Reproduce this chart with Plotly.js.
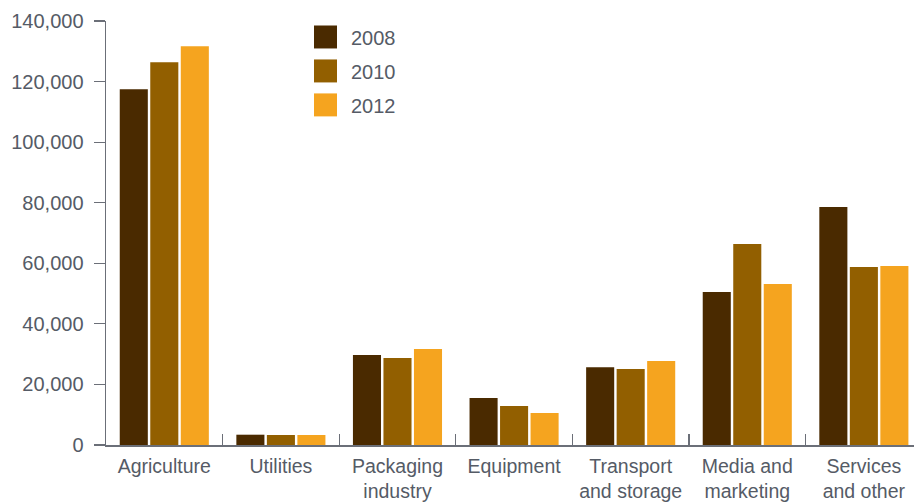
<!DOCTYPE html>
<html><head><meta charset="utf-8">
<script src="https://cdn.plot.ly/plotly-3.0.1.min.js"></script>
<style>html,body{margin:0;padding:0;background:#fff}#chart{width:914px;height:503px}</style>
</head><body><div id="chart"></div>
<script>
var categories = ["Agriculture","Utilities","Packaging<br>industry","Equipment","Transport<br>and storage","Media and<br>marketing","Services<br>and other"];
var years = ["2008","2010","2012"];
var v2008 = [117500, 3400, 29700, 15500, 25700, 50500, 78600];
var v2010 = [126400, 3300, 28700, 12900, 25100, 66400, 58800];
var v2012 = [131700, 3300, 31700, 10600, 27700, 53200, 59100];
var colors = ["#4a2a00", "#925f00", "#f5a41f"];
var yTicks = [0,20000,40000,60000,80000,100000,120000,140000];
var yTickText = ["0","20,000","40,000","60,000","80,000","100,000","120,000","140,000"];

var series = [v2008, v2010, v2012];
var traces = series.map(function(vals, i){
  return {type:'bar', x:categories, y:vals, name:years[i], marker:{color:colors[i], line:{width:0}}, showlegend:false, hoverinfo:'x+y'};
});

var W=914, H=503, mL=106, mR=0, mT=20.5, mB=58;
var pw=W-mL-mR, ph=H-mT-mB;
function px(x){return (x-mL)/pw;}
function py(y){return (H-mB-y)/ph;}
var txt="#555b66", axc="#6b6f78";
var shapes=[], anns=[];
var legTop=[25,59,93];
for(var i=0;i<years.length;i++){
  shapes.push({type:'rect', xref:'paper', yref:'paper', x0:px(314), x1:px(337), y0:py(legTop[i]+23), y1:py(legTop[i]), fillcolor:colors[i], line:{width:0}});
  anns.push({xref:'paper', yref:'paper', x:px(349), y:py(legTop[i]+13), text:years[i], showarrow:false, xanchor:'left', yanchor:'middle', font:{size:20, color:txt, family:'Liberation Sans, Arial, sans-serif'}});
}

var layout = {
  width:W, height:H,
  margin:{l:mL, r:mR, t:mT, b:mB, pad:0},
  paper_bgcolor:'#fff', plot_bgcolor:'#fff',
  font:{family:'Liberation Sans, Arial, sans-serif', size:20, color:txt},
  barmode:'group', bargap:0.215, bargroupgap:0.08,
  showlegend:false,
  xaxis:{type:'category', range:[-0.5, 6.43], showgrid:false, zeroline:false,
    showline:true, linecolor:axc, linewidth:1.5,
    ticks:'inside', tickson:'boundaries', ticklen:11, tickwidth:1.2, tickcolor:axc,
    tickfont:{size:19.5, color:txt}, ticklabelstandoff:3, fixedrange:true},
  yaxis:{range:[0,140000], tickvals:yTicks, ticktext:yTickText, showgrid:false, zeroline:false,
    showline:true, linecolor:axc, linewidth:1.5,
    ticks:'outside', ticklen:11, tickwidth:1.2, tickcolor:axc,
    tickfont:{size:20, color:txt}, ticklabelstandoff:6, fixedrange:true},
  shapes:shapes, annotations:anns
};
Plotly.newPlot('chart', traces, layout, {displayModeBar:false, staticPlot:true});
</script></body></html>
